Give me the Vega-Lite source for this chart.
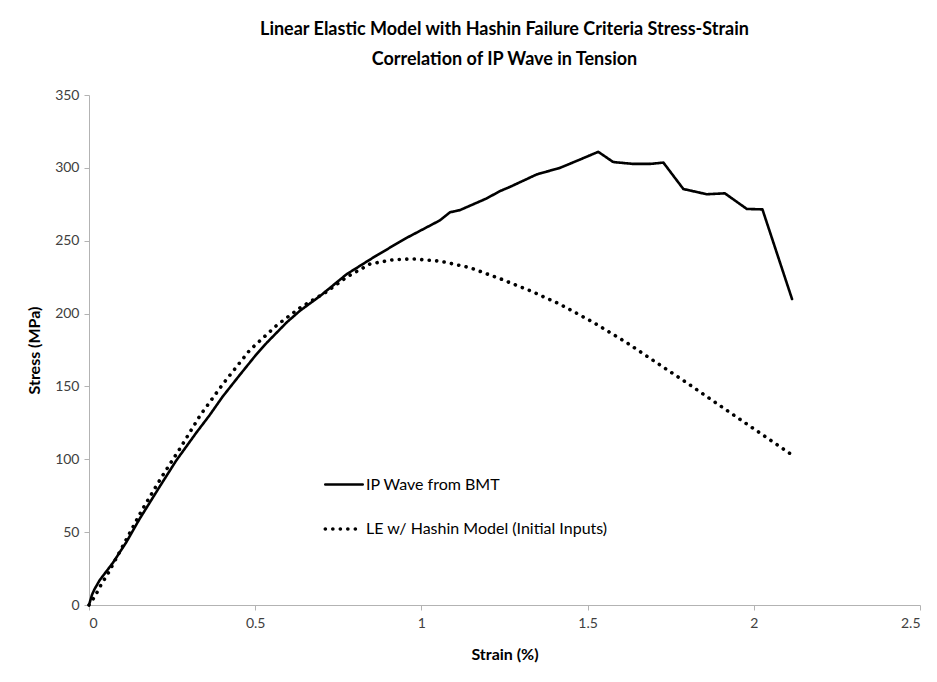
{
  "$schema": "https://vega.github.io/schema/vega-lite/v6.json",
  "width": 831,
  "height": 510,
  "autosize": {"type": "none"},
  "padding": {"left": 89, "top": 95, "right": 17, "bottom": 77},
  "background": "white",
  "title": {
    "text": ["Linear Elastic Model with Hashin Failure Criteria Stress-Strain", "Correlation of IP Wave in Tension"],
    "font": "Lato",
    "fontSize": 18,
    "fontWeight": "bold",
    "color": "#000000",
    "anchor": "middle",
    "offset": 19,
    "lineHeight": 30
  },
  "data": {
    "values": [
      {"series": "IP Wave from BMT", "strain": 0, "stress": 0},
      {"series": "IP Wave from BMT", "strain": 0.009, "stress": 7},
      {"series": "IP Wave from BMT", "strain": 0.017, "stress": 11},
      {"series": "IP Wave from BMT", "strain": 0.032, "stress": 17},
      {"series": "IP Wave from BMT", "strain": 0.072, "stress": 29},
      {"series": "IP Wave from BMT", "strain": 0.112, "stress": 43},
      {"series": "IP Wave from BMT", "strain": 0.152, "stress": 59},
      {"series": "IP Wave from BMT", "strain": 0.212, "stress": 81},
      {"series": "IP Wave from BMT", "strain": 0.262, "stress": 99},
      {"series": "IP Wave from BMT", "strain": 0.322, "stress": 118},
      {"series": "IP Wave from BMT", "strain": 0.362, "stress": 130},
      {"series": "IP Wave from BMT", "strain": 0.402, "stress": 143},
      {"series": "IP Wave from BMT", "strain": 0.454, "stress": 158},
      {"series": "IP Wave from BMT", "strain": 0.5, "stress": 171},
      {"series": "IP Wave from BMT", "strain": 0.535, "stress": 180},
      {"series": "IP Wave from BMT", "strain": 0.595, "stress": 194},
      {"series": "IP Wave from BMT", "strain": 0.635, "stress": 202},
      {"series": "IP Wave from BMT", "strain": 0.695, "stress": 212},
      {"series": "IP Wave from BMT", "strain": 0.775, "stress": 227},
      {"series": "IP Wave from BMT", "strain": 0.866, "stress": 240},
      {"series": "IP Wave from BMT", "strain": 0.956, "stress": 252},
      {"series": "IP Wave from BMT", "strain": 1.056, "stress": 264},
      {"series": "IP Wave from BMT", "strain": 1.086, "stress": 269.5},
      {"series": "IP Wave from BMT", "strain": 1.116, "stress": 271},
      {"series": "IP Wave from BMT", "strain": 1.196, "stress": 279},
      {"series": "IP Wave from BMT", "strain": 1.236, "stress": 284},
      {"series": "IP Wave from BMT", "strain": 1.267, "stress": 287},
      {"series": "IP Wave from BMT", "strain": 1.347, "stress": 295.5},
      {"series": "IP Wave from BMT", "strain": 1.417, "stress": 300},
      {"series": "IP Wave from BMT", "strain": 1.475, "stress": 305.5},
      {"series": "IP Wave from BMT", "strain": 1.532, "stress": 311},
      {"series": "IP Wave from BMT", "strain": 1.577, "stress": 304},
      {"series": "IP Wave from BMT", "strain": 1.637, "stress": 302.7},
      {"series": "IP Wave from BMT", "strain": 1.688, "stress": 302.7},
      {"series": "IP Wave from BMT", "strain": 1.728, "stress": 303.6},
      {"series": "IP Wave from BMT", "strain": 1.788, "stress": 285.5},
      {"series": "IP Wave from BMT", "strain": 1.858, "stress": 281.9},
      {"series": "IP Wave from BMT", "strain": 1.913, "stress": 282.5},
      {"series": "IP Wave from BMT", "strain": 1.979, "stress": 271.8},
      {"series": "IP Wave from BMT", "strain": 2.026, "stress": 271.5},
      {"series": "IP Wave from BMT", "strain": 2.115, "stress": 210},
      {"series": "LE w/ Hashin Model (Initial Inputs)", "strain": 0, "stress": 0},
      {"series": "LE w/ Hashin Model (Initial Inputs)", "strain": 0.018, "stress": 6},
      {"series": "LE w/ Hashin Model (Initial Inputs)", "strain": 0.033, "stress": 12.6},
      {"series": "LE w/ Hashin Model (Initial Inputs)", "strain": 0.058, "stress": 22},
      {"series": "LE w/ Hashin Model (Initial Inputs)", "strain": 0.103, "stress": 41},
      {"series": "LE w/ Hashin Model (Initial Inputs)", "strain": 0.159, "stress": 65},
      {"series": "LE w/ Hashin Model (Initial Inputs)", "strain": 0.219, "stress": 88},
      {"series": "LE w/ Hashin Model (Initial Inputs)", "strain": 0.274, "stress": 107.5},
      {"series": "LE w/ Hashin Model (Initial Inputs)", "strain": 0.334, "stress": 130},
      {"series": "LE w/ Hashin Model (Initial Inputs)", "strain": 0.404, "stress": 152},
      {"series": "LE w/ Hashin Model (Initial Inputs)", "strain": 0.484, "stress": 175},
      {"series": "LE w/ Hashin Model (Initial Inputs)", "strain": 0.565, "stress": 192},
      {"series": "LE w/ Hashin Model (Initial Inputs)", "strain": 0.635, "stress": 204},
      {"series": "LE w/ Hashin Model (Initial Inputs)", "strain": 0.715, "stress": 215},
      {"series": "LE w/ Hashin Model (Initial Inputs)", "strain": 0.775, "stress": 225},
      {"series": "LE w/ Hashin Model (Initial Inputs)", "strain": 0.845, "stress": 234},
      {"series": "LE w/ Hashin Model (Initial Inputs)", "strain": 0.916, "stress": 237},
      {"series": "LE w/ Hashin Model (Initial Inputs)", "strain": 0.976, "stress": 237.5},
      {"series": "LE w/ Hashin Model (Initial Inputs)", "strain": 1.056, "stress": 236},
      {"series": "LE w/ Hashin Model (Initial Inputs)", "strain": 1.146, "stress": 231.5},
      {"series": "LE w/ Hashin Model (Initial Inputs)", "strain": 1.236, "stress": 224},
      {"series": "LE w/ Hashin Model (Initial Inputs)", "strain": 1.327, "stress": 215.7},
      {"series": "LE w/ Hashin Model (Initial Inputs)", "strain": 1.417, "stress": 206.4},
      {"series": "LE w/ Hashin Model (Initial Inputs)", "strain": 1.517, "stress": 194},
      {"series": "LE w/ Hashin Model (Initial Inputs)", "strain": 1.618, "stress": 180},
      {"series": "LE w/ Hashin Model (Initial Inputs)", "strain": 1.718, "stress": 164.7},
      {"series": "LE w/ Hashin Model (Initial Inputs)", "strain": 1.798, "stress": 152.6},
      {"series": "LE w/ Hashin Model (Initial Inputs)", "strain": 1.878, "stress": 140},
      {"series": "LE w/ Hashin Model (Initial Inputs)", "strain": 1.979, "stress": 124.2},
      {"series": "LE w/ Hashin Model (Initial Inputs)", "strain": 2.115, "stress": 103}
    ]
  },
  "mark": {"type": "line", "strokeCap": "round", "strokeJoin": "round", "color": "#000000"},
  "encoding": {
    "x": {
      "field": "strain",
      "type": "quantitative",
      "scale": {"domain": [0, 2.5], "nice": false, "zero": true},
      "axis": {"title": "Strain (%)", "values": [0, 0.5, 1, 1.5, 2, 2.5], "format": "~g", "labelPadding": 6, "titlePadding": 16}
    },
    "y": {
      "field": "stress",
      "type": "quantitative",
      "scale": {"domain": [0, 350], "nice": false},
      "axis": {"title": "Stress (MPa)", "values": [0, 50, 100, 150, 200, 250, 300, 350], "labelPadding": 5, "titlePadding": 12}
    },
    "strokeWidth": {
      "field": "series",
      "type": "nominal",
      "scale": {"domain": ["IP Wave from BMT", "LE w/ Hashin Model (Initial Inputs)"], "range": [2.6, 3.6]},
      "legend": null
    },
    "strokeDash": {
      "field": "series",
      "type": "nominal",
      "scale": {"domain": ["IP Wave from BMT", "LE w/ Hashin Model (Initial Inputs)"], "range": [[1, 0], [0.1, 7.4]]},
      "legend": {
        "title": null,
        "orient": "none",
        "legendX": 234,
        "legendY": 369,
        "symbolType": "stroke",
        "symbolSize": 1400,
        "symbolStrokeWidth": 3,
        "symbolStrokeColor": "#000000",
        "rowPadding": 15,
        "labelFont": "Lato",
        "labelFontSize": 16,
        "labelColor": "#000000",
        "labelOffset": 1,
        "padding": 0,
        "labelLimit": 400,
        "encode": {"symbols": {"update": {"strokeCap": {"value": "round"}}}}
      }
    }
  },
  "config": {
    "view": {"stroke": null},
    "axis": {
      "grid": false,
      "domainColor": "#b3b3b3",
      "tickColor": "#b3b3b3",
      "tickSize": 5,
      "labelFont": "Lato",
      "labelFontSize": 14,
      "labelColor": "#404040",
      "titleFont": "Lato",
      "titleFontSize": 16,
      "titleFontWeight": "bold",
      "titleColor": "#000000"
    }
  }
}
